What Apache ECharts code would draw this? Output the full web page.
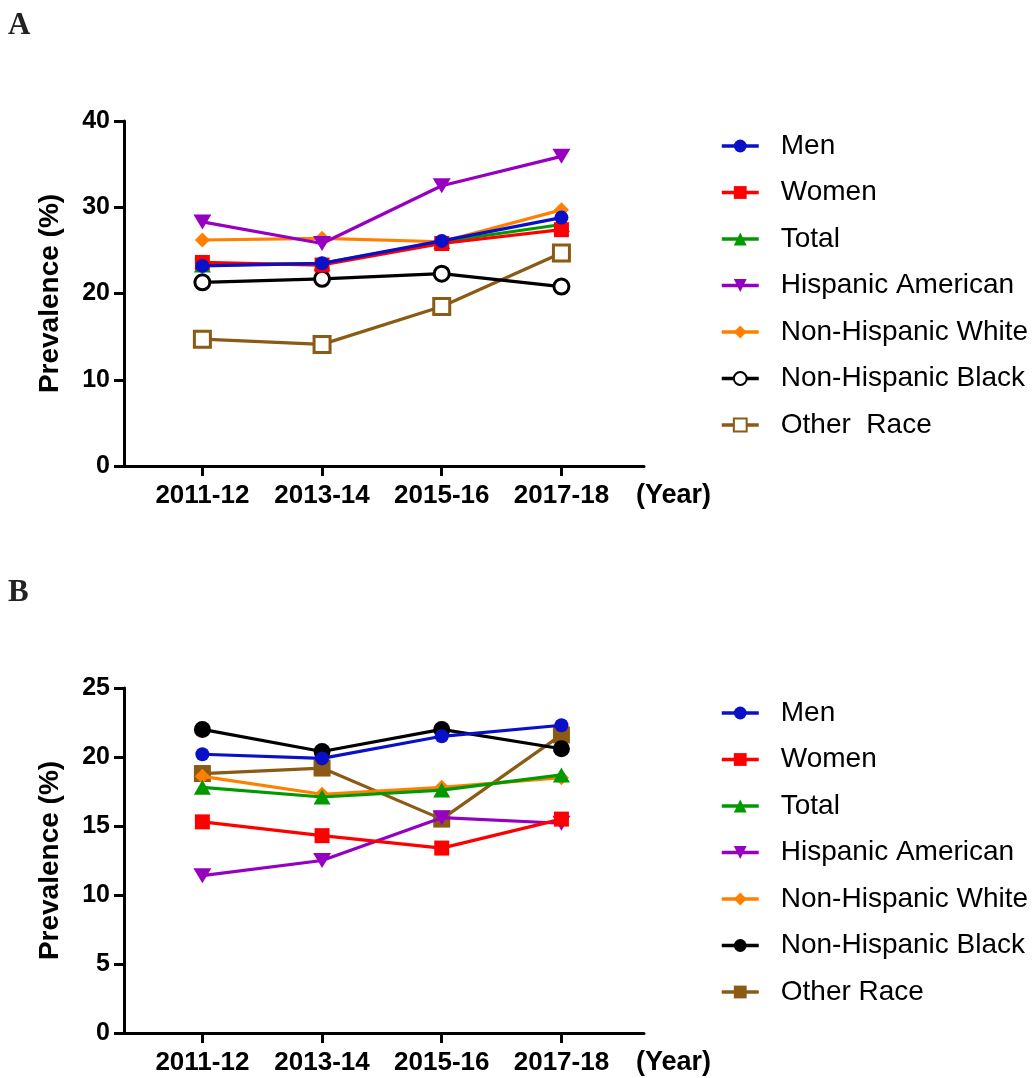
<!DOCTYPE html>
<html>
<head>
<meta charset="utf-8">
<script src="https://cdn.jsdelivr.net/npm/echarts@6/dist/echarts.min.js"></script>
<style>
html,body{margin:0;padding:0;background:#fff;}
#chart{width:1032px;height:1078px;}
</style>
</head>
<body>
<div id="chart"></div>
<script>
// ---------- data ----------
const years = ['2011-12', '2013-14', '2015-16', '2017-18'];
const seriesNamesA = ['Men', 'Women', 'Total', 'Hispanic American', 'Non-Hispanic White', 'Non-Hispanic Black', 'Other  Race'];
const seriesNamesB = ['Men', 'Women', 'Total', 'Hispanic American', 'Non-Hispanic White', 'Non-Hispanic Black', 'Other Race'];

const menA      = [23.2, 23.5, 26.1, 28.8];
const womenA    = [23.6, 23.3, 25.8, 27.4];
const totalA    = [23.3, 23.5, 26.0, 28.0];
const hispA     = [28.3, 25.8, 32.5, 35.9];
const nhwA      = [26.2, 26.4, 26.0, 29.7];
const nhbA      = [21.3, 21.7, 22.3, 20.8];
const otherA    = [14.7, 14.1, 18.5, 24.7];

const menB      = [20.2, 19.9, 21.5, 22.3];
const womenB    = [15.3, 14.3, 13.4, 15.5];
const totalB    = [17.8, 17.1, 17.6, 18.7];
const hispB     = [11.4, 12.5, 15.6, 15.2];
const nhwB      = [18.6, 17.3, 17.8, 18.5];
const nhbB      = [22.0, 20.4, 22.0, 20.6];
const otherB    = [18.8, 19.2, 15.5, 21.6];

const yTicksA = [0, 10, 20, 30, 40];
const yTicksB = [0, 5, 10, 15, 20, 25];

// ---------- styling ----------
const colors = ['#0a10c8', '#ff0000', '#009a00', '#9600c0', '#ff8000', '#000000', '#8b5a14'];
const FONT = 'Liberation Sans, Arial, sans-serif';

function markerStyle(i, hollow) {
  const c = colors[i];
  const base = {color: c, borderColor: c, borderWidth: 0};
  switch (i) {
    case 0: return {symbol: 'circle', symbolSize: 14, itemStyle: base};
    case 1: return {symbol: 'rect', symbolSize: 15, itemStyle: base};
    case 2: return {symbol: 'triangle', symbolSize: [17, 15], itemStyle: base};
    case 3: return {symbol: 'triangle', symbolSize: [18, 15], symbolRotate: 180, itemStyle: base};
    case 4: return {symbol: 'diamond', symbolSize: [15, 15], itemStyle: base};
    case 5: return hollow
      ? {symbol: 'circle', symbolSize: 15, itemStyle: {color: '#fff', borderColor: c, borderWidth: 3}}
      : {symbol: 'circle', symbolSize: 17, itemStyle: base};
    case 6: return hollow
      ? {symbol: 'rect', symbolSize: 16, itemStyle: {color: '#fff', borderColor: c, borderWidth: 3}}
      : {symbol: 'rect', symbolSize: 17, itemStyle: base};
  }
}

function buildSeries(names, arrays, gridIdx, suffix, hollow) {
  const out = [];
  for (let i = arrays.length - 1; i >= 0; i--) {
    const m = markerStyle(i, hollow);
    out.push(Object.assign({
      type: 'line',
      name: names[i] + suffix,
      xAxisIndex: gridIdx,
      yAxisIndex: gridIdx,
      data: arrays[i].map((v, k) => [k + 1, v]),
      showAllSymbol: true,
      lineStyle: {color: colors[i], width: 3.2},
      emphasis: {disabled: true},
      animation: false,
      z: 10 + (arrays.length - i)
    }, m));
  }
  return out;
}

const seriesA = buildSeries(seriesNamesA, [menA, womenA, totalA, hispA, nhwA, nhbA, otherA], 0, '', true);
const seriesB = buildSeries(seriesNamesB, [menB, womenB, totalB, hispB, nhwB, nhbB, otherB], 1, '#B', false);

function xAxisCfg(gridIdx) {
  return {
    type: 'value', gridIndex: gridIdx, min: 0.345, max: 4.69,
    axisLine: {show: true, lineStyle: {color: '#000', width: 3}},
    axisTick: {show: true, length: 10, lineStyle: {color: '#000', width: 3}, customValues: [1, 2, 3, 4]},
    axisLabel: {show: true, customValues: [1, 2, 3, 4], formatter: v => years[Math.round(v) - 1],
      color: '#000', fontFamily: FONT, fontWeight: 'bold', fontSize: 26, margin: 17},
    splitLine: {show: false},
    name: '(Year)', nameLocation: 'end', nameGap: -8,
    nameTextStyle: {color: '#000', fontFamily: FONT, fontWeight: 'bold', fontSize: 27,
      align: 'left', verticalAlign: 'top', padding: [16, 0, 0, 0]}
  };
}
function yAxisCfg(gridIdx, ticks) {
  return {
    type: 'value', gridIndex: gridIdx, min: ticks[0], max: ticks[ticks.length - 1],
    interval: ticks[1] - ticks[0],
    axisLine: {show: true, lineStyle: {color: '#000', width: 3}},
    axisTick: {show: true, length: 10, lineStyle: {color: '#000', width: 3}},
    axisLabel: {color: '#000', fontFamily: FONT, fontWeight: 'bold', fontSize: 25, margin: 14},
    splitLine: {show: false},
    name: 'Prevalence (%)', nameLocation: 'middle', nameRotate: 90, nameGap: 60,
    nameTextStyle: {color: '#000', fontFamily: FONT, fontWeight: 'bold', fontSize: 28}
  };
}
function legendCfg(names, suffix, top) {
  return {
    orient: 'vertical', left: 720, top: top, padding: 0,
    data: names.map(n => n + suffix),
    formatter: n => n.replace('#B', ''),
    itemWidth: 37, itemHeight: 16, itemGap: 16.5,
    selectedMode: false,
    lineStyle: {width: 3.5},
    textStyle: {color: '#000', fontFamily: FONT, fontSize: 28, lineHeight: 30, padding: [0, 0, 0, 17]}
  };
}

const option = {
  backgroundColor: '#fff',
  animation: false,
  title: [
    {text: 'A', left: 8, top: 10, padding: 0,
     textStyle: {fontFamily: 'Liberation Serif, Times New Roman, serif', fontWeight: 'bold', fontSize: 31, color: '#222'}},
    {text: 'B', left: 8, top: 577, padding: 0,
     textStyle: {fontFamily: 'Liberation Serif, Times New Roman, serif', fontWeight: 'bold', fontSize: 31, color: '#222'}}
  ],
  grid: [
    {left: 124, top: 121, width: 520, height: 345, containLabel: false},
    {left: 124, top: 688, width: 520, height: 345, containLabel: false}
  ],
  xAxis: [xAxisCfg(0), xAxisCfg(1)],
  yAxis: [yAxisCfg(0, yTicksA), yAxisCfg(1, yTicksB)],
  legend: [legendCfg(seriesNamesA, '', 131), legendCfg(seriesNamesB, '#B', 698)],
  series: seriesA.concat(seriesB)
};

const chart = echarts.init(document.getElementById('chart'), null, {renderer: 'canvas'});
chart.setOption(option);
</script>
</body>
</html>
